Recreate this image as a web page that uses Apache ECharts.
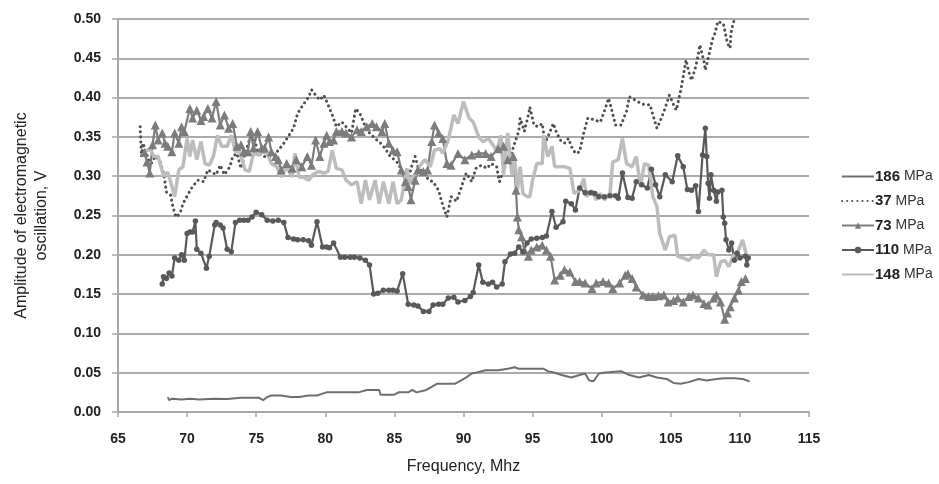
<!DOCTYPE html>
<html>
<head>
<meta charset="utf-8">
<script src="https://cdn.jsdelivr.net/npm/echarts@6/dist/echarts.min.js"></script>
<style>
html,body{margin:0;padding:0;background:#fff;}
#c{width:939px;height:484px;}
</style>
</head>
<body>
<div id="c"></div>
<script>
// [frequency MHz, amplitude V]
const s186 = [[68.6,.019],[68.7,.015],[68.9,.017],[69.6,.016],[70.2,.017],[70.9,.016],[71.9,.017],[72.9,.0165],[73.9,.018],[75.2,.018],[75.5,.015],[75.8,.019],[76.1,.021],[76.8,.021],[77.5,.019],[78.1,.019],[78.8,.021],[79.4,.021],[80.1,.025],[80.7,.025],[82.4,.025],[83.0,.028],[83.9,.028],[84.0,.022],[85.0,.022],[85.3,.025],[86.0,.025],[86.3,.028],[86.6,.025],[87.3,.028],[87.6,.031],[88.1,.036],[88.8,.036],[89.4,.036],[89.8,.040],[90.2,.044],[90.6,.049],[91.1,.051],[91.6,.053],[92.5,.053],[93.2,.055],[93.7,.057],[94.0,.055],[95.0,.055],[95.5,.055],[95.8,.055],[96.1,.052],[96.6,.050],[97.1,.047],[97.8,.044],[98.4,.047],[98.8,.049],[99.1,.040],[99.4,.039],[99.8,.049],[100.1,.050],[100.7,.051],[101.4,.052],[102.0,.047],[102.7,.044],[103.4,.047],[104.0,.044],[104.7,.042],[105.2,.037],[105.7,.036],[106.3,.038],[107.0,.042],[107.6,.040],[108.3,.042],[108.9,.043],[109.6,.043],[110.2,.042],[110.7,.039]];

const s37 = [[66.6,.363],[66.7,.325],[66.8,.342],[67.0,.333],[67.2,.321],[67.4,.316],[67.7,.325],[68.0,.321],[68.3,.304],[68.5,.280],[68.8,.276],[69.0,.259],[69.2,.248],[69.5,.253],[69.7,.265],[70.1,.278],[70.4,.287],[70.8,.295],[71.2,.293],[71.5,.308],[71.9,.304],[72.1,.302],[72.4,.314],[72.7,.302],[73.1,.312],[73.3,.325],[73.6,.329],[73.9,.310],[74.2,.329],[74.5,.346],[74.8,.350],[75.1,.333],[75.5,.325],[75.9,.325],[76.2,.325],[76.6,.333],[77.0,.342],[77.3,.350],[77.7,.361],[78.0,.380],[78.4,.391],[78.8,.401],[79.0,.410],[79.3,.403],[79.6,.397],[79.9,.403],[80.1,.395],[80.5,.378],[80.8,.363],[81.2,.369],[81.5,.363],[81.9,.355],[82.2,.386],[82.5,.380],[82.9,.363],[83.2,.355],[83.6,.348],[84.0,.342],[84.3,.336],[84.7,.325],[85.0,.321],[85.3,.316],[85.6,.304],[86.0,.295],[86.2,.310],[86.5,.325],[86.7,.312],[87.1,.304],[87.5,.295],[87.8,.293],[88.2,.282],[88.5,.263],[88.8,.248],[89.1,.274],[89.5,.268],[89.9,.289],[90.2,.304],[90.6,.293],[90.9,.310],[91.3,.314],[91.7,.310],[92.0,.316],[92.4,.312],[92.6,.293],[93.0,.312],[93.4,.325],[93.7,.342],[94.0,.357],[94.1,.374],[94.4,.357],[94.7,.378],[94.8,.388],[95.1,.365],[95.4,.363],[95.7,.367],[95.9,.342],[96.1,.350],[96.5,.367],[96.7,.357],[97.0,.346],[97.3,.342],[97.6,.348],[97.8,.338],[98.1,.329],[98.4,.331],[98.7,.355],[99.0,.374],[99.4,.372],[99.9,.369],[100.2,.383],[100.5,.399],[100.7,.386],[101.0,.365],[101.4,.365],[101.8,.383],[102.0,.401],[102.4,.397],[102.8,.393],[103.1,.391],[103.5,.391],[103.7,.378],[104.0,.361],[104.2,.369],[104.5,.382],[104.9,.403],[105.2,.391],[105.4,.384],[105.7,.408],[105.9,.427],[106.1,.448],[106.3,.433],[106.5,.422],[106.8,.439],[107.0,.456],[107.1,.467],[107.4,.446],[107.5,.435],[107.7,.450],[108.0,.473],[108.2,.482],[108.4,.497],[108.8,.494],[108.9,.486],[109.1,.469],[109.3,.463],[109.35,.482],[109.5,.494],[109.6,.499]];

const s73 = [[66.9,.330],[67.1,.318],[67.3,.304],[67.5,.340],[67.7,.365],[67.9,.346],[68.2,.355],[68.4,.342],[68.6,.338],[68.9,.331],[69.1,.355],[69.4,.342],[69.6,.363],[69.8,.357],[70.2,.386],[70.4,.374],[70.7,.384],[71.0,.371],[71.2,.376],[71.5,.386],[71.8,.374],[72.1,.395],[72.4,.365],[72.7,.378],[73.0,.361],[73.3,.367],[73.6,.338],[73.9,.340],[74.1,.331],[74.4,.331],[74.6,.357],[74.8,.336],[75.1,.357],[75.4,.336],[75.6,.336],[75.9,.350],[76.1,.331],[76.4,.325],[76.6,.321],[76.8,.308],[77.2,.316],[77.6,.310],[77.9,.321],[78.3,.312],[78.7,.325],[79.0,.314],[79.3,.346],[79.6,.325],[79.9,.342],[80.1,.352],[80.3,.344],[80.6,.346],[80.8,.357],[81.2,.357],[81.5,.355],[81.9,.350],[82.3,.359],[82.6,.357],[83.0,.363],[83.4,.367],[83.7,.363],[84.1,.357],[84.3,.367],[84.6,.342],[84.9,.333],[85.2,.331],[85.5,.308],[85.8,.293],[86.0,.287],[86.2,.270],[86.5,.295],[86.7,.308],[87.1,.306],[87.4,.308],[87.7,.344],[87.9,.365],[88.2,.355],[88.5,.348],[88.8,.316],[89.1,.314],[89.6,.329],[90.1,.321],[90.6,.327],[91.1,.329],[91.6,.329],[92.0,.325],[92.5,.335],[92.9,.338],[93.2,.321],[93.6,.325],[93.8,.282],[93.9,.248],[94.0,.232],[94.2,.223],[94.4,.206],[94.7,.198],[94.9,.206],[95.3,.210],[95.7,.212],[96.0,.206],[96.3,.198],[96.6,.168],[97.0,.174],[97.3,.181],[97.7,.178],[98.1,.166],[98.4,.166],[98.8,.164],[99.3,.157],[99.6,.164],[100.1,.166],[100.5,.164],[100.8,.157],[101.3,.164],[101.7,.174],[101.9,.176],[102.2,.170],[102.5,.159],[103.0,.149],[103.4,.147],[103.7,.147],[104.1,.148],[104.5,.149],[104.8,.140],[105.2,.142],[105.5,.145],[105.9,.140],[106.3,.147],[106.6,.149],[107.0,.145],[107.4,.138],[107.7,.136],[108.1,.145],[108.3,.149],[108.6,.140],[108.9,.118],[109.1,.126],[109.3,.134],[109.6,.145],[109.9,.155],[110.1,.166],[110.4,.170]];

const s110 = [[68.2,.163],[68.3,.172],[68.5,.170],[68.7,.177],[68.9,.173],[69.1,.196],[69.4,.193],[69.6,.200],[69.8,.193],[70.0,.227],[70.2,.229],[70.4,.229],[70.6,.243],[70.7,.207],[71.0,.202],[71.4,.183],[71.6,.198],[72.0,.238],[72.1,.241],[72.4,.238],[72.6,.234],[72.9,.207],[73.2,.204],[73.5,.241],[73.8,.244],[74.1,.244],[74.4,.244],[74.7,.248],[75.0,.254],[75.4,.251],[75.8,.244],[76.2,.243],[76.6,.244],[77.0,.241],[77.3,.222],[77.7,.220],[78.0,.219],[78.4,.219],[78.8,.218],[79.0,.212],[79.4,.242],[79.8,.210],[80.1,.210],[80.3,.209],[80.6,.215],[81.1,.197],[81.4,.197],[81.8,.197],[82.1,.197],[82.5,.196],[82.9,.193],[83.2,.187],[83.5,.150],[83.8,.151],[84.2,.155],[84.6,.155],[84.9,.155],[85.2,.154],[85.6,.176],[86.0,.137],[86.4,.136],[86.7,.135],[87.1,.128],[87.5,.128],[87.8,.136],[88.2,.137],[88.5,.137],[88.9,.145],[89.3,.146],[89.6,.140],[90.1,.142],[90.5,.147],[90.7,.152],[91.1,.187],[91.4,.165],[91.8,.163],[92.1,.165],[92.4,.159],[92.8,.163],[93.0,.191],[93.4,.201],[93.7,.202],[94.0,.210],[94.3,.204],[94.6,.215],[94.9,.220],[95.3,.221],[95.7,.222],[96.0,.224],[96.4,.255],[96.7,.235],[97.2,.242],[97.4,.268],[97.8,.265],[98.1,.257],[98.4,.285],[98.8,.279],[99.2,.279],[99.5,.278],[99.8,.274],[100.2,.274],[100.6,.275],[101.0,.275],[101.2,.272],[101.5,.304],[101.9,.273],[102.2,.272],[102.5,.293],[102.9,.289],[103.3,.285],[103.6,.309],[103.9,.289],[104.2,.274],[104.6,.302],[105.1,.293],[105.5,.326],[105.9,.312],[106.2,.283],[106.5,.282],[106.8,.288],[107.0,.255],[107.3,.327],[107.5,.361],[107.6,.325],[107.7,.291],[107.8,.272],[107.9,.302],[108.1,.282],[108.3,.268],[108.4,.280],[108.7,.282],[108.8,.248],[108.9,.240],[109.0,.219],[109.2,.206],[109.4,.215],[109.6,.193],[109.8,.202],[110.0,.196],[110.4,.198],[110.5,.187],[110.6,.196]];

const s148 = [[66.9,.330],[67.3,.335],[67.6,.325],[67.9,.325],[68.3,.300],[68.6,.305],[68.9,.287],[69.1,.274],[69.4,.308],[69.7,.312],[70.0,.348],[70.2,.325],[70.4,.346],[70.7,.321],[71.0,.344],[71.3,.316],[71.6,.314],[71.9,.325],[72.2,.352],[72.5,.338],[72.9,.338],[73.2,.352],[73.5,.331],[73.8,.331],[74.2,.308],[74.5,.306],[74.8,.329],[75.2,.327],[75.4,.331],[75.8,.329],[76.1,.316],[76.5,.312],[76.8,.299],[77.2,.312],[77.6,.299],[77.8,.329],[78.1,.299],[78.4,.299],[78.8,.295],[79.1,.302],[79.5,.306],[79.9,.304],[80.2,.306],[80.5,.333],[80.8,.310],[81.2,.308],[81.5,.295],[81.9,.289],[82.3,.293],[82.6,.265],[82.9,.295],[83.2,.270],[83.6,.295],[83.9,.265],[84.2,.293],[84.6,.265],[84.9,.293],[85.2,.265],[85.5,.270],[85.9,.310],[86.1,.291],[86.5,.302],[86.8,.312],[87.2,.321],[87.6,.312],[87.9,.333],[88.3,.335],[88.5,.329],[88.9,.346],[89.3,.378],[89.6,.367],[90.0,.395],[90.4,.374],[90.7,.369],[91.1,.350],[91.4,.344],[91.8,.348],[92.2,.338],[92.4,.331],[92.7,.352],[92.9,.302],[93.2,.355],[93.5,.302],[93.7,.321],[93.9,.282],[94.1,.312],[94.3,.278],[94.6,.274],[94.8,.274],[95.0,.295],[95.3,.316],[95.7,.316],[95.8,.352],[96.1,.325],[96.4,.338],[96.6,.312],[97.0,.312],[97.3,.312],[97.7,.310],[98.0,.278],[98.4,.282],[98.7,.297],[98.9,.274],[99.3,.282],[99.6,.270],[99.9,.278],[100.2,.270],[100.6,.278],[100.8,.318],[101.2,.321],[101.5,.348],[101.8,.316],[102.2,.312],[102.5,.325],[102.8,.287],[103.1,.316],[103.4,.314],[103.7,.274],[104.0,.261],[104.2,.227],[104.6,.206],[104.9,.223],[105.3,.225],[105.5,.198],[105.9,.196],[106.3,.193],[106.6,.198],[107.0,.196],[107.4,.206],[107.7,.200],[108.1,.200],[108.3,.172],[108.6,.191],[108.9,.193],[109.2,.185],[109.5,.198],[109.9,.206],[110.2,.219],[110.5,.198]];

const seriesNames = ['186 MPa','37 MPa','73 MPa','110 MPa','148 MPa'];
const xTicks = {min:65, max:115, step:5};
const yTicks = {min:0, max:0.5, step:0.05};

const chart = echarts.init(document.getElementById('c'), null, {renderer:'canvas'});
const lblFont = "'Liberation Sans', Arial, sans-serif";
const noSym = {opacity:0};
chart.setOption({
  animation:false,
  backgroundColor:'#ffffff',
  grid:{left:118, right:130, top:19, bottom:72},
  legend:{
    orient:'vertical', left:836, top:164, itemWidth:32, itemHeight:8, itemGap:9.5,
    data:[
      {name:seriesNames[0], itemStyle:noSym},
      {name:seriesNames[1], itemStyle:noSym},
      {name:seriesNames[2]},
      {name:seriesNames[3]},
      {name:seriesNames[4], itemStyle:noSym}
    ],
    formatter:n=>'{b|'+n.split(' ')[0]+'} MPa',
    textStyle:{fontFamily:lblFont, fontSize:14, color:'#333', padding:[0,0,0,-4],
      rich:{b:{fontFamily:lblFont, fontSize:15, fontWeight:'bold', color:'#222'}}}
  },
  xAxis:{
    type:'value', min:xTicks.min, max:xTicks.max, interval:xTicks.step,
    name:'Frequency, Mhz', nameLocation:'middle', nameGap:47,
    nameTextStyle:{fontFamily:lblFont, fontSize:16, color:'#222'},
    axisLine:{show:true, onZero:false, lineStyle:{color:'#a8a8a8', width:2}},
    axisTick:{show:true, length:5, lineStyle:{color:'#a8a8a8', width:1.5}},
    axisLabel:{fontFamily:lblFont, fontSize:14, fontWeight:'bold', color:'#222', margin:20},
    splitLine:{show:false}
  },
  yAxis:{
    type:'value', min:yTicks.min, max:yTicks.max, interval:yTicks.step,
    name:'Amplitude of electromagnetic\noscillation, V', nameLocation:'middle', nameGap:66, nameRotate:90,
    nameTextStyle:{fontFamily:lblFont, fontSize:16, color:'#222', lineHeight:20},
    axisLine:{show:true, lineStyle:{color:'#a8a8a8', width:2}},
    axisTick:{show:true, length:6, lineStyle:{color:'#a8a8a8', width:1.5}},
    axisLabel:{fontFamily:lblFont, fontSize:14, fontWeight:'bold', color:'#222', margin:17,
      formatter:v=>v.toFixed(2)},
    splitLine:{show:true, lineStyle:{color:'#ababab', width:2}}
  },
  series:[
    {name:seriesNames[0], type:'line', data:s186, symbol:'none',
      lineStyle:{color:'#6e6e6e', width:2}, itemStyle:{color:'#6e6e6e'}},
    {name:seriesNames[1], type:'line', data:s37, symbol:'none',
      lineStyle:{color:'#4f4f4f', width:3, type:[0.1,5], cap:'round'}, itemStyle:{color:'#4f4f4f'}},
    {name:seriesNames[2], type:'line', data:s73, symbol:'triangle', symbolSize:9, showAllSymbol:true,
      lineStyle:{color:'#7c7c7c', width:2.2}, itemStyle:{color:'#7c7c7c'}},
    {name:seriesNames[3], type:'line', data:s110, symbol:'circle', symbolSize:5.5, showAllSymbol:true,
      lineStyle:{color:'#595959', width:2.2}, itemStyle:{color:'#595959'}},
    {name:seriesNames[4], type:'line', data:s148, symbol:'none',
      lineStyle:{color:'#bdbdbd', width:3.5}, itemStyle:{color:'#bdbdbd'}}
  ]
});
</script>
</body>
</html>
